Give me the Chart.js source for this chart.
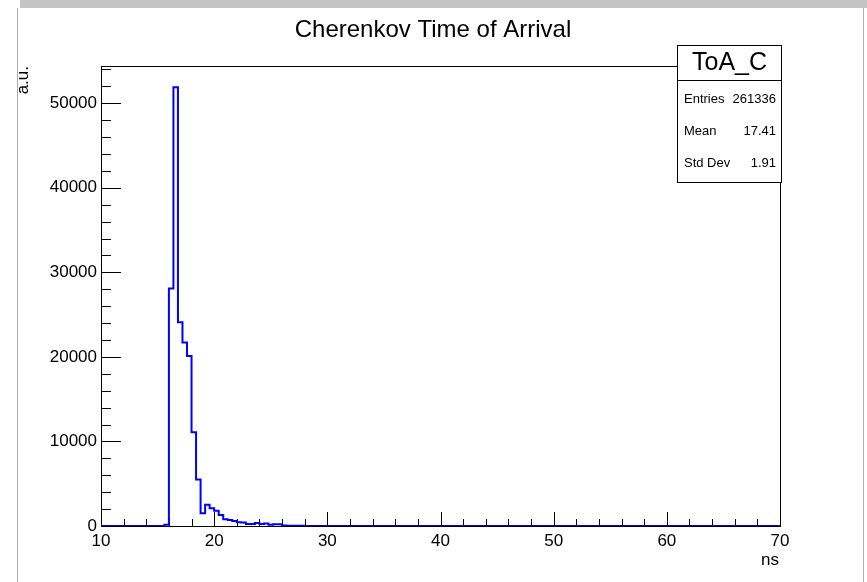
<!DOCTYPE html>
<html>
<head>
<meta charset="utf-8">
<title>Cherenkov Time of Arrival</title>
<script src="https://cdn.jsdelivr.net/npm/chart.js@4"></script>
<style>
  html, body { margin: 0; padding: 0; background: #fff; }
  canvas { display: block; }
</style>
</head>
<body>
<canvas id="toaChart" width="867" height="582"></canvas>
<script>
const histTitle = 'Cherenkov Time of Arrival';
const histName = 'ToA_C';
const xTitle = 'ns';
const yTitle = 'a.u.';
const xMin = 10;
const xMax = 70;
const binWidth = 0.4;
const yMax = 54400;
const xTickValues = [10, 20, 30, 40, 50, 60, 70];
const yTickValues = [0, 10000, 20000, 30000, 40000, 50000];
const statLabels = ['Entries', 'Mean', 'Std Dev'];
const statValues = ['261336', '17.41', '1.91'];

// bin contents, 150 bins of 0.4 ns from 10 to 70
const counts = [
    0, 0, 0, 0, 0, 0, 0, 0, 0, 0,
    0, 0, 0, 0, 150, 28100, 51900, 24100, 21700, 20100,
    11100, 5500, 1500, 2500, 2100, 1800, 1300, 800, 700, 600,
    450, 400, 250, 250, 350, 250, 300, 150, 200, 200,
    60, 40, 30, 20, 20, 10, 10, 10, 0, 0,
    0, 0, 0, 0, 0, 0, 0, 0, 0, 0,
    0, 0, 0, 0, 0, 0, 0, 0, 0, 0,
    0, 0, 0, 0, 0, 0, 0, 0, 0, 0,
    0, 0, 0, 0, 0, 0, 0, 0, 0, 0,
    0, 0, 0, 0, 0, 0, 0, 0, 0, 0,
    0, 0, 0, 0, 0, 0, 0, 0, 0, 0,
    0, 0, 0, 0, 0, 0, 0, 0, 0, 0,
    0, 0, 0, 0, 0, 0, 0, 0, 0, 0,
    0, 0, 0, 0, 0, 0, 0, 0, 0, 0,
    0, 0, 0, 0, 0, 0, 0, 0, 0, 0
];

const FONT = '"Liberation Sans", Arial, Helvetica, sans-serif';

// step points: lower edge of every bin, then the upper edge of the last one
const points = counts.map((c, i) => ({ x: xMin + i * binWidth, y: c }));
points.push({ x: xMax, y: 0 });

const rootStyle = {
    id: 'rootStyle',
    beforeDatasetsDraw(chart) {
        const ctx = chart.ctx;
        const a = chart.chartArea;
        const xs = chart.scales.x;
        const ys = chart.scales.y;
        ctx.save();
        ctx.strokeStyle = '#000';
        ctx.lineWidth = 1;
        ctx.strokeRect(Math.round(a.left) + 0.5, Math.round(a.top) + 0.5,
            Math.round(a.right - a.left), Math.round(a.bottom - a.top));

        ctx.beginPath();
        // x ticks, pointing inward
        for (let v = xMin; v <= xMax; v += 2) {
            const px = Math.round(xs.getPixelForValue(v)) + 0.5;
            const len = (v % 10 === 0) ? 14 : 7;
            ctx.moveTo(px, a.bottom);
            ctx.lineTo(px, a.bottom - len);
        }
        // y ticks, pointing inward
        for (let v = 0; v <= yMax; v += 2000) {
            const py = Math.round(ys.getPixelForValue(v)) + 0.5;
            const len = (v % 10000 === 0) ? 20 : 10;
            ctx.moveTo(a.left, py);
            ctx.lineTo(a.left + len, py);
        }
        ctx.stroke();
        ctx.restore();
    },
    afterDraw(chart) {
        const ctx = chart.ctx;
        const a = chart.chartArea;
        ctx.save();

        // canvas window border
        ctx.fillStyle = '#c4c4c4';
        ctx.fillRect(20, 0, 847, 8);
        ctx.fillStyle = '#b0b0b0';
        ctx.fillRect(17, 8, 1, 574);
        ctx.fillRect(863, 8, 1, 574);

        ctx.fillStyle = '#000';
        // title
        ctx.font = '24px ' + FONT;
        ctx.textAlign = 'center';
        ctx.textBaseline = 'alphabetic';
        ctx.fillText(histTitle, 433, 37);

        // x title
        ctx.font = '17px ' + FONT;
        ctx.textAlign = 'right';
        ctx.fillText(xTitle, a.right - 1, 565);

        // y title
        ctx.save();
        ctx.translate(28, a.top);
        ctx.rotate(-Math.PI / 2);
        ctx.textAlign = 'right';
        ctx.fillText(yTitle, 0, 0);
        ctx.restore();

        // stats box
        const bx = 677.5, by = 45.5, bw = 104, bh = 137;
        ctx.fillStyle = '#fff';
        ctx.fillRect(bx, by, bw, bh);
        ctx.strokeStyle = '#000';
        ctx.lineWidth = 1;
        ctx.strokeRect(bx, by, bw, bh);
        ctx.beginPath();
        ctx.moveTo(bx, 80.5);
        ctx.lineTo(bx + bw, 80.5);
        ctx.stroke();

        ctx.fillStyle = '#000';
        ctx.font = '25px ' + FONT;
        ctx.textAlign = 'center';
        ctx.textBaseline = 'middle';
        ctx.fillText(histName, bx + bw / 2, 63);

        ctx.font = '13px ' + FONT;
        const rowY = [99, 131, 163];
        statLabels.forEach((lab, i) => {
            ctx.textAlign = 'left';
            ctx.fillText(lab, 684, rowY[i]);
            ctx.textAlign = 'right';
            ctx.fillText(statValues[i], 776, rowY[i]);
        });
        ctx.restore();
    }
};

new Chart(document.getElementById('toaChart'), {
    type: 'line',
    data: {
        datasets: [{
            label: histName,
            data: points,
            stepped: 'before',
            borderColor: '#0000ff',
            borderWidth: 2,
            pointRadius: 0,
            fill: false,
            tension: 0
        }]
    },
    options: {
        responsive: false,
        animation: false,
        devicePixelRatio: 1,
        layout: {
            padding: { left: 17, right: 87, top: 66, bottom: 26 }
        },
        plugins: {
            legend: { display: false },
            title: { display: false },
            tooltip: { enabled: false }
        },
        scales: {
            x: {
                type: 'linear',
                min: xMin,
                max: xMax,
                grid: { display: false, drawTicks: false },
                border: { display: false },
                afterBuildTicks: (s) => { s.ticks = xTickValues.map(v => ({ value: v })); },
                afterFit: (s) => { s.height = 30; },
                ticks: {
                    autoSkip: false,
                    maxRotation: 0,
                    padding: 5,
                    color: '#000',
                    font: { family: FONT, size: 17 },
                    callback: (v) => String(v)
                }
            },
            y: {
                type: 'linear',
                min: 0,
                max: yMax,
                grid: { display: false, drawTicks: false },
                border: { display: false },
                afterBuildTicks: (s) => { s.ticks = yTickValues.map(v => ({ value: v })); },
                afterFit: (s) => { s.width = 84; },
                ticks: {
                    autoSkip: false,
                    padding: 4,
                    color: '#000',
                    font: { family: FONT, size: 17 },
                    callback: (v) => String(v)
                }
            }
        }
    },
    plugins: [rootStyle]
});
</script>
</body>
</html>
